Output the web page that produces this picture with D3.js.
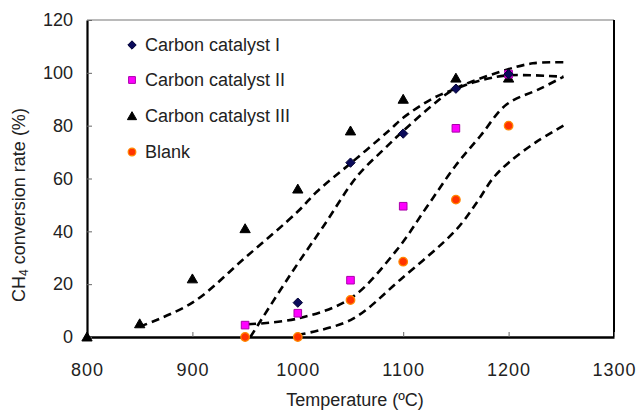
<!DOCTYPE html>
<html lang="en">
<head>
  <meta charset="UTF-8">
  <title>CH4 conversion rate</title>
  <style>
  body { margin: 0; background: #fff; }
  svg { font-family: "Liberation Sans", Arial, sans-serif; }
  .tick text { fill: #222; }
  .fit { fill: none; stroke: #000; stroke-width: 2.6px; stroke-dasharray: 8 5; }
</style>
</head>
<body>
  <script src="https://d3js.org/d3.v7.min.js"></script>
  <script>
// measured points
const tempsCat1 = [1000, 1050, 1100, 1150, 1200]
const cat1 = [13, 66, 77, 94, 99.5]
const tempsCat2 = [950, 1000, 1050, 1100, 1150, 1200]
const cat2 = [4.5, 9, 21.5, 49.5, 79, 99.5]
const tempsCat3 = [800, 850, 900, 950, 1000, 1050, 1100, 1150, 1200]
const cat3 = [0, 5, 22, 41, 56, 78, 90, 98, 98]
const tempsBlank = [950, 1000, 1050, 1100, 1150, 1200]
const blank = [0, 0, 14, 28.5, 52, 80]

// dashed trend curves
const fit1T = [955, 983, 1002, 1024, 1056, 1081, 1100, 1128, 1147, 1192, 1223, 1252]
const fit1V = [0, 17.5, 29, 41.7, 60.7, 70.8, 78, 87.8, 93.5, 100.4, 103.6, 104]
const fit2T = [953, 1000, 1050, 1094, 1122, 1150, 1173, 1198, 1230, 1252]
const fit2V = [4.8, 7, 14.6, 33, 49, 65, 76, 88, 94, 98.5]
const fit3T = [850, 900, 950, 1000, 1018, 1050, 1087, 1100, 1128, 1150, 1169, 1198, 1252]
const fit3V = [3.9, 13, 30, 47.5, 55, 65.7, 78.3, 83, 90.3, 94, 96.6, 99, 98.5]
const fitBT = [1000, 1050, 1097, 1150, 1170, 1185, 1200, 1225, 1252]
const fitBV = [0.8, 6.4, 21.6, 40.5, 51, 60, 66, 73.5, 80]

const xTicks = [800, 900, 1000, 1100, 1200, 1300]
const yTicks = [0, 20, 40, 60, 80, 100, 120]
const seriesNames = ["Carbon catalyst I", "Carbon catalyst II", "Carbon catalyst III", "Blank"]

width = 641
height = 410
margin = ({top: 20, right: 27, bottom: 73, left: 87})

x = d3.scaleLinear().domain([800, 1300]).range([margin.left, width - margin.right])
y = d3.scaleLinear().domain([0, 120]).range([height - margin.bottom, margin.top])

const svg = d3.select("body").append("svg")
  .attr("width", width)
  .attr("height", height)

// frame
svg.append("line")
  .attr("x1", x(800)).attr("x2", x(1300)).attr("y1", y(120)).attr("y2", y(120))
  .attr("stroke", "#777").attr("stroke-width", 1.2)
svg.append("line")
  .attr("x1", x(1300)).attr("x2", x(1300)).attr("y1", y(120)).attr("y2", y(0))
  .attr("stroke", "#000").attr("stroke-width", 2)

// axes, ticks pointing inward
svg.append("g")
  .attr("transform", `translate(0,${y(0)})`)
  .call(d3.axisBottom(x).tickValues(xTicks).tickFormat(d3.format("d"))
    .tickSize(-5).tickPadding(26).tickSizeOuter(0))
  .call(g => g.select(".domain").attr("stroke-width", 2.6))
  .call(g => g.selectAll(".tick line").attr("stroke", "#666"))
  .call(g => g.selectAll(".tick text").attr("font-size", 18).attr("letter-spacing", 1))

svg.append("g")
  .attr("transform", `translate(${x(800)},0)`)
  .call(d3.axisLeft(y).tickValues(yTicks).tickSize(-5).tickPadding(14).tickSizeOuter(0))
  .call(g => g.select(".domain").attr("stroke-width", 2.2))
  .call(g => g.selectAll(".tick line").attr("stroke", "#666"))
  .call(g => g.selectAll(".tick text").attr("font-size", 18))

// axis titles
svg.append("text")
  .attr("x", 355)
  .attr("y", 406)
  .attr("text-anchor", "middle")
  .attr("font-size", 18)
  .attr("fill", "#222")
  .text("Temperature (ºC)")

const yt = svg.append("text")
  .attr("transform", "translate(25,205) rotate(-90)")
  .attr("text-anchor", "middle")
  .attr("font-size", 18)
  .attr("fill", "#222")
yt.append("tspan").text("CH")
yt.append("tspan").attr("font-size", 12).attr("dy", 3).text("4")
yt.append("tspan").attr("dy", -3).text(" conversion rate (%)")

// trend curves
const line = d3.line().x(d => x(d[0])).y(d => y(d[1])).curve(d3.curveCatmullRom.alpha(0.5))
const fits = [[fit1T, fit1V], [fit2T, fit2V], [fit3T, fit3V], [fitBT, fitBV]]
svg.append("g")
  .selectAll("path")
  .data(fits)
  .enter().append("path")
    .attr("class", "fit")
    .attr("d", f => line(f[0].map((t, i) => [t, f[1][i]])))

// marker shapes
const markers = [
  {sym: d3.symbolDiamond2, size: 56, fill: "#0a0a5a", stroke: "#000033", sw: 1},
  {sym: d3.symbolSquare, size: 58, fill: "#ff00ff", stroke: "#aa00aa", sw: 1},
  {sym: d3.symbolTriangle, size: 46, fill: "#000", stroke: "#000", sw: 1},
  {sym: d3.symbolCircle, size: 58, fill: "#ff3300", stroke: "#ff8800", sw: 1.2}
]
const pts = [[tempsCat1, cat1], [tempsCat2, cat2], [tempsCat3, cat3], [tempsBlank, blank]]

// blank first so the catalysts sit on top
;[3, 2, 1, 0].forEach(k => {
  const m = markers[k]
  svg.append("g")
    .selectAll("path")
    .data(pts[k][0].map((t, i) => [t, pts[k][1][i]]))
    .enter().append("path")
      .attr("transform", d => `translate(${x(d[0])},${y(d[1]) + (k === 2 ? 1 : 0)})`)
      .attr("d", d3.symbol(m.sym, m.size))
      .attr("fill", m.fill)
      .attr("stroke", m.stroke)
      .attr("stroke-width", m.sw)
})

// legend
const legend = svg.append("g")
const rowY = [45, 80, 116, 152]
seriesNames.forEach((name, k) => {
  const m = markers[k]
  legend.append("path")
    .attr("transform", `translate(132,${rowY[k] + (k === 2 ? 1 : 0)})`)
    .attr("d", d3.symbol(m.sym, m.size * 0.8))
    .attr("fill", m.fill)
    .attr("stroke", m.stroke)
    .attr("stroke-width", m.sw)
  legend.append("text")
    .attr("x", 145)
    .attr("y", rowY[k])
    .attr("dy", "0.35em")
    .attr("font-size", 18)
    .attr("fill", "#222")
    .text(name)
})
  </script>
</body>
</html>
